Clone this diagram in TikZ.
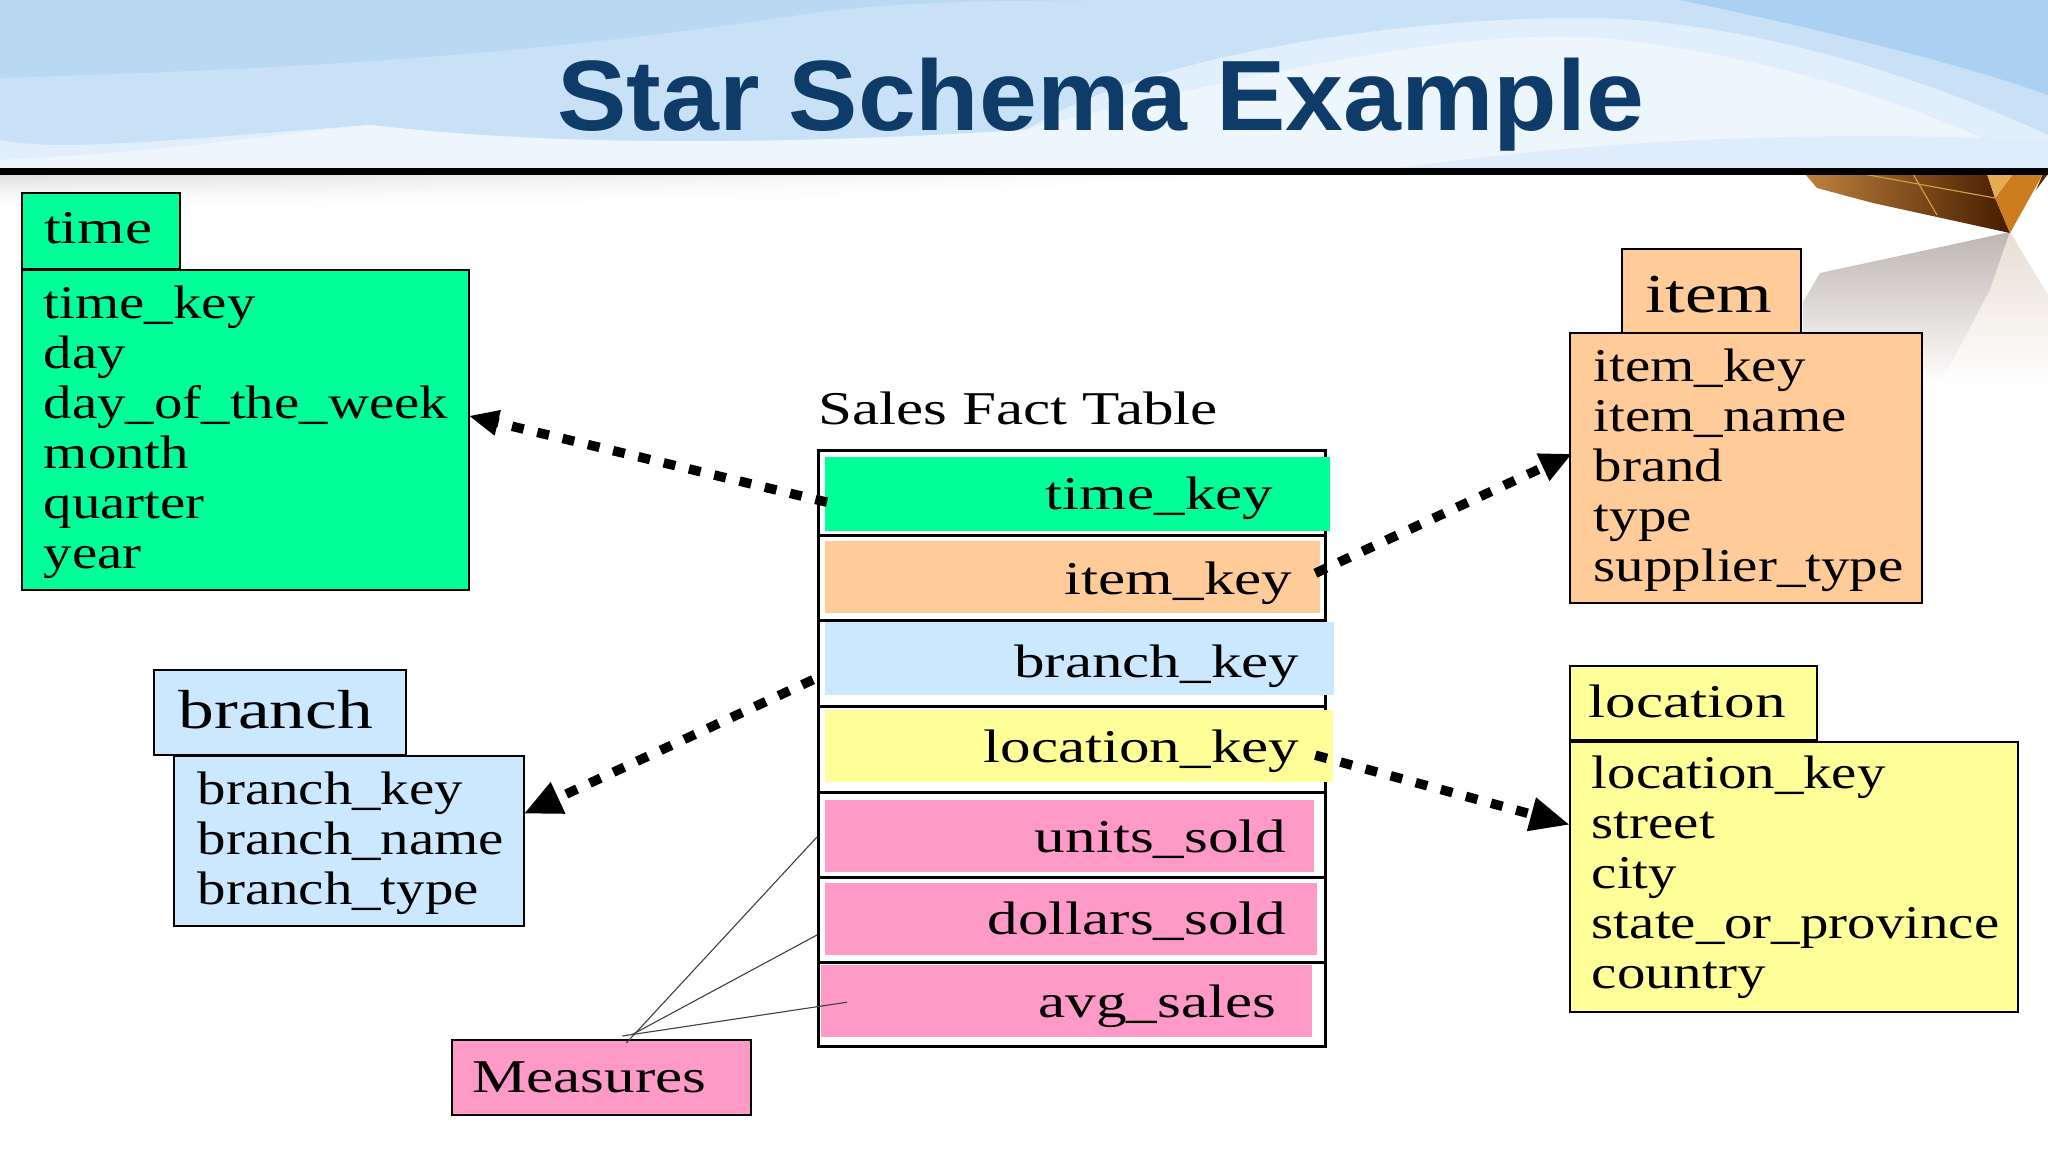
\documentclass[tikz,border=0pt]{standalone}
\usepackage{fontspec}
\usetikzlibrary{arrows.meta}
\newfontfamily\tabfont[FakeStretch=1.30]{Liberation Serif}
\newfontfamily\bodyfont[FakeStretch=1.21]{Liberation Serif}
\newfontfamily\headfont[FakeStretch=1.04]{Liberation Sans Bold}
\definecolor{cgreen}{HTML}{00FF99}
\definecolor{corange}{HTML}{FFCC99}
\definecolor{cblue}{HTML}{CCE8FF}
\definecolor{cyellow}{HTML}{FFFF99}
\definecolor{cpink}{HTML}{FF99C8}
\definecolor{cnavy}{HTML}{0E3B68}
\tikzset{
  box/.style={draw=black,line width=1.6pt,fill=#1,inner ysep=0pt,anchor=north west,
    font=\bodyfont\fontsize{47}{50}\selectfont},
  tabsmall/.style={font=\tabfont\fontsize{47}{50}\selectfont},
  tabbig/.style={font=\tabfont\fontsize{55}{55}\selectfont},
  rowbox/.style={draw=black,line width=3pt,fill=white,inner sep=0pt,anchor=north west,minimum width=507pt},
  cellbox/.style={fill=#1,inner sep=0pt,anchor=north west,align=right,
    font=\tabfont\fontsize{47}{50}\selectfont,text depth=4pt},
  dotarrow/.style 2 args={draw=black,line width=9.5pt,dash pattern=on 12pt off 14pt,
    -{Triangle[length=#1pt,width=#2pt]}},
  thinline/.style={draw=black!75,line width=1.1pt}
}
\newcommand{\cellrow}[9]{%
  \node[cellbox=#6,minimum height=#5pt,text width=#4pt,text height=#9pt] (#1) at (#2,#3) {#8\hspace*{#7pt}\null};}
\begin{document}
\begin{tikzpicture}[x=1pt,y=-1pt]
\useasboundingbox (0,0) rectangle (2048,1152);
% background
\fill[white] (0,0) rectangle (2048,1152);
\foreach \i in {0,...,10} {
  \pgfmathsetmacro{\lev}{12*(1-\i/11)^1.5}
  \shade[left color=black!\lev,right color=white,shading angle=90] (0,174+\i*3) rectangle (1300-\i*50,177.2+\i*3);
}
% reflection
\shade[top color={rgb,255:red,190;green,182;blue,178},bottom color=white] (2010,232) -- (1820,273) -- (1803,302) -- (1803,385) -- (1940,385) -- (1990,290) -- cycle;
\shade[top color={rgb,255:red,232;green,222;blue,212},bottom color=white] (2010,232) -- (2048,295) -- (2048,385) -- (1940,385) -- (1990,290) -- cycle;
% brown object
\shade[left color={rgb,255:red,190;green,130;blue,60},right color={rgb,255:red,70;green,28;blue,0}] (1805,174) -- (1817,188) -- (1873,203) -- (2010,233) -- (1995,198) -- (1987,174) -- cycle;
\fill[color={rgb,255:red,205;green,125;blue,30}] (2010,233) -- (1995,198) -- (2013,174) -- (2043,174) -- cycle;
\fill[color={rgb,255:red,228;green,172;blue,85}] (1987,174) -- (1995,198) -- (2013,174) -- cycle;
\fill[color={rgb,255:red,90;green,40;blue,5}] (2043,174) -- (2048,174) -- (2036,190) -- cycle;
\draw[color={rgb,255:red,210;green,155;blue,70},line width=1.2pt] (1863,174) -- (1995,198) (1913,174) -- (1937,215);
% banner
\fill[color={rgb,255:red,185;green,216;blue,241}] (0,0) rectangle (2048,168);
\fill[color={rgb,255:red,201;green,225;blue,247}] (0,78) .. controls (250,70) and (500,60) .. (800,15) .. controls (900,0) and (1000,0) .. (1250,0) -- (1800,0) -- (2048,80) -- (2048,168) -- (0,168) -- cycle;
\fill[color={rgb,255:red,172;green,208;blue,242}] (1680,0) .. controls (1800,25) and (1950,60) .. (2048,95) -- (2048,0) -- cycle;
\fill[color={rgb,255:red,225;green,239;blue,252}] (0,140) .. controls (60,152) and (170,140) .. (370,125) .. controls (500,140) and (700,150) .. (1000,150) .. controls (1100,60) and (1400,15) .. (1600,18) .. controls (1780,25) and (1950,90) .. (2048,135) -- (2048,168) -- (0,168) -- cycle;
\fill[color={rgb,255:red,238;green,246;blue,253}] (0,160) .. controls (200,150) and (300,130) .. (370,125) .. controls (500,140) and (700,150) .. (1024,130) .. controls (1300,60) and (1500,25) .. (1620,40) .. controls (1800,60) and (1950,120) .. (2048,168) -- (0,168) -- cycle;
\fill[color={rgb,255:red,222;green,236;blue,251}] (1400,168) .. controls (1600,140) and (1800,130) .. (2048,140) -- (2048,168) -- cycle;
\fill[black] (0,168) rectangle (2048,174.5);
% title
\node[font=\headfont\fontsize{100}{100}\selectfont,text=cnavy,anchor=base,inner sep=0pt] (title) at (1101,130) {Star Schema Example};
% dimension tables
\node[box=cgreen,tabsmall,minimum width=158pt,minimum height=76pt,inner xsep=0pt,text height=32pt,text depth=6pt] (timetab) at (21,192) {time\hspace*{5pt}\null};
\node[box=cgreen,minimum height=320pt,inner xsep=22pt,text width=403pt,align=left] (timebody) at (21,269) {\rule{0pt}{38pt}time\_key\\day\\day\_of\_the\_week\\month\\quarter\\year};
\node[box=corange,tabbig,minimum width=179pt,minimum height=84pt,inner xsep=0pt,text height=44pt,text depth=0pt] (itemtab) at (1621,248) {item\hspace*{5pt}\null};
\node[box=corange,minimum height=270pt,inner xsep=24pt,text width=304pt,align=left] (itembody) at (1569,332) {\rule{0pt}{38pt}item\_key\\item\_name\\brand\\type\\supplier\_type};
\node[box=cblue,tabbig,minimum width=252pt,minimum height=85pt,inner xsep=0pt,text height=38pt,text depth=6pt] (branchtab) at (153,669) {branch\hspace*{8pt}\null};
\node[box=cblue,minimum height=170pt,inner xsep=24pt,text width=302pt,align=left] (branchbody) at (173,755) {\rule{0pt}{38pt}branch\_key\\branch\_name\\branch\_type};
\node[box=cyellow,tabsmall,minimum width=247pt,minimum height=74pt,inner xsep=0pt,text height=32pt,text depth=2pt] (loctab) at (1569,665) {location\hspace*{12pt}\null};
\node[box=cyellow,minimum height=270pt,inner xsep=22pt,text width=404pt,align=left] (locbody) at (1569,741) {\rule{0pt}{34pt}location\_key\\street\\city\\state\_or\_province\\country};
\node[box=cpink,tabsmall,minimum width=299pt,minimum height=75pt,inner xsep=0pt] (measures) at (451,1039) {Measures\hspace*{24pt}\null};
% fact table
\node[font=\tabfont\fontsize{47}{50}\selectfont,anchor=base west,inner sep=0pt] (facttitle) at (818,424) {Sales Fact Table};
\node[rowbox,minimum height=85pt] (r1) at (817,449) {};
\node[rowbox,minimum height=85pt] (r2) at (817,534) {};
\node[rowbox,minimum height=86pt] (r3) at (817,619) {};
\node[rowbox,minimum height=86pt] (r4) at (817,705) {};
\node[rowbox,minimum height=85pt] (r5) at (817,791) {};
\node[rowbox,minimum height=85pt] (r6) at (817,876) {};
\node[rowbox,minimum height=84pt] (r7) at (817,961) {};
\cellrow{ctime}{825}{457}{505}{74}{cgreen}{57}{time\_key}{34}
\cellrow{citem}{825}{541}{495}{72}{corange}{28}{item\_key}{39}
\cellrow{cbranch}{825}{622}{509}{73}{cblue}{35}{branch\_key}{41}
\cellrow{cloc}{825}{710}{508}{72}{cyellow}{34}{location\_key}{36}
\cellrow{cunits}{825}{800}{489}{72}{cpink}{28}{units\_sold}{36}
\cellrow{cdollars}{825}{883}{492}{72}{cpink}{31}{dollars\_sold}{34}
\cellrow{cavg}{821}{965}{491}{72}{cpink}{36}{avg\_sales}{36}
% connectors
\draw[dotarrow={30}{24}] ([xshift=2pt,yshift=-8pt]ctime.west) -- ([xshift=-1pt,yshift=14pt]timebody.east);
\draw[dotarrow={32}{28}] ([xshift=-5pt,yshift=4pt]citem.east) -- ([xshift=3pt,yshift=14pt]itembody.west);
\draw[dotarrow={38}{32}] ([xshift=-12pt,yshift=-21pt]cbranch.west) -- ([xshift=-1pt,yshift=27pt]branchbody.east);
\draw[dotarrow={40}{32}] ([xshift=-18pt,yshift=-9pt]cloc.east) -- ([xshift=1pt,yshift=52pt]locbody.west);
\coordinate (meet) at ([xshift=30pt,yshift=4pt]measures.north);
\draw[thinline] ([xshift=25pt,yshift=-4pt]measures.north) -- ([yshift=-2pt]r5.west);
\draw[thinline] (meet) -- ([yshift=-15pt]r6.west);
\draw[thinline] ([xshift=21pt,yshift=3pt]measures.north) -- ([xshift=26pt,yshift=-1pt]cavg.west);
\end{tikzpicture}
\end{document}
